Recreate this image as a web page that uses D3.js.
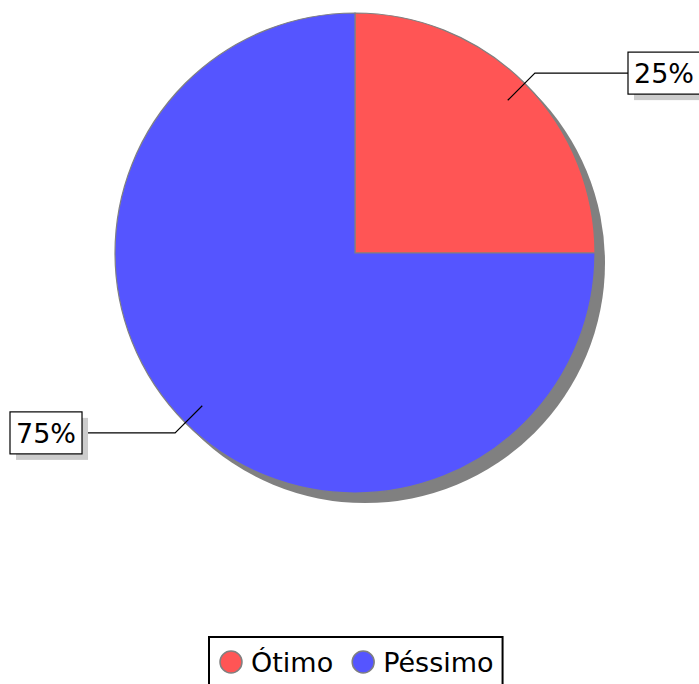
<!DOCTYPE html>
<html>
<head>
<meta charset="utf-8">
<script src="https://cdn.jsdelivr.net/npm/d3@7.9.0/dist/d3.min.js"></script>
<style>
  body { margin: 0; background: #fff; }
  svg { display: block; font-family: "DejaVu Sans", sans-serif; }
</style>
</head>
<body>
<svg width="699" height="684"></svg>
<script>
const categories = ['Ótimo', 'Péssimo'];
const values = [25, 75];
const labels = ['25%', '75%'];
const colors = ['#ff5555', '#5555ff'];

const svg = d3.select('svg');
const cx = 355, cy = 253, R = 240;

const pie = d3.pie().sort(null).value(d => d)(values);
const arc = d3.arc().innerRadius(0).outerRadius(R);

// shadow under the pie
svg.append('circle')
  .attr('cx', cx + 10).attr('cy', cy + 10).attr('r', R)
  .attr('fill', '#808080');

const g = svg.append('g').attr('transform', `translate(${cx},${cy})`);
g.selectAll('path.slice')
  .data(pie)
  .join('path')
  .attr('class', 'slice')
  .attr('d', arc)
  .attr('fill', (d, i) => colors[i])
  .attr('stroke', '#808080')
  .attr('stroke-width', 1.2);

// labels with leader lines
const inner = d3.arc().innerRadius(R * 0.9).outerRadius(R * 0.9);
const elbow = d3.arc().innerRadius(R * 1.06).outerRadius(R * 1.06);
const boxH = 42;

pie.forEach((d, i) => {
  const p1 = inner.centroid(d);
  const p2 = elbow.centroid(d);
  const right = p2[0] > 0;
  const t = svg.append('text')
    .attr('font-size', 27)
    .text(labels[i]);
  const tw = t.node().getComputedTextLength();
  const bw = tw + 12;
  const bx = right ? 628 : 10;
  const ex = right ? bx : bx + bw;
  const y = cy + p2[1];

  g.append('polyline')
    .attr('points', [p1, p2, [ex - cx, p2[1]]].map(p => p.join(',')).join(' '))
    .attr('fill', 'none')
    .attr('stroke', '#000')
    .attr('stroke-width', 1.2);

  svg.insert('rect', 'text')
    .attr('x', bx + 6).attr('y', y - boxH / 2 + 6)
    .attr('width', bw).attr('height', boxH)
    .attr('fill', '#cccccc');
  svg.insert('rect', 'text')
    .attr('x', bx).attr('y', y - boxH / 2)
    .attr('width', bw).attr('height', boxH)
    .attr('fill', '#fff').attr('stroke', '#000').attr('stroke-width', 1.2);
  t.attr('x', bx + 6).attr('y', y + 10);
});

// legend
const lg = svg.append('g');
let x = 220;
const ly = 662;
categories.forEach((c, i) => {
  lg.append('circle')
    .attr('cx', x + 11).attr('cy', ly).attr('r', 11)
    .attr('fill', colors[i]).attr('stroke', '#808080').attr('stroke-width', 1.5);
  const t = lg.append('text')
    .attr('x', x + 31).attr('y', ly + 10)
    .attr('font-size', 27)
    .text(c);
  x += 31 + t.node().getComputedTextLength() + 19;
});
lg.insert('rect', ':first-child')
  .attr('x', 209).attr('y', 637)
  .attr('width', x - 19 + 9 - 209).attr('height', 60)
  .attr('fill', '#fff').attr('stroke', '#000').attr('stroke-width', 2);
</script>
</body>
</html>
